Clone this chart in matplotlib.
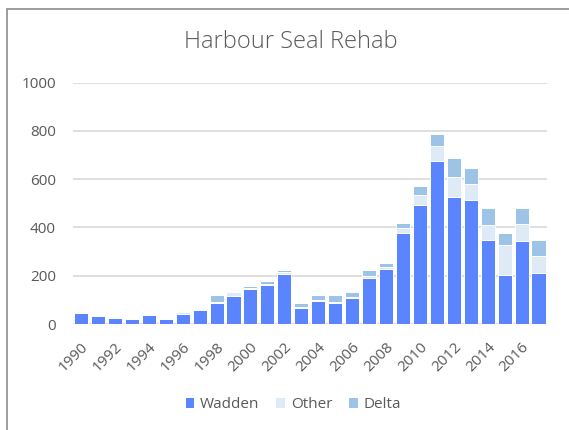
import matplotlib
matplotlib.use("Agg")
import matplotlib.pyplot as plt
from matplotlib.patches import Rectangle
import numpy as np

years = list(range(1990, 2018))
wadden = [45, 34, 26, 22, 38, 22, 42, 58, 85, 117, 144, 163, 206, 66,
          96, 87, 107, 190, 228, 376, 491, 675, 526, 515, 346, 201, 342, 213]
other = [2, 2, 3, 3, 3, 3, 8, 3, 8, 15, 5, 3, 8, 5,
         5, 6, 6, 7, 6, 23, 42, 63, 84, 65, 64, 128, 73, 69]
delta = [3, 5, 4, 5, 5, 5, 4, 5, 27, 5, 7, 13, 9, 15,
         18, 26, 21, 27, 18, 18, 40, 47, 76, 68, 69, 47, 64, 64]
series_names = ["Wadden", "Other", "Delta"]
colors = ["#5B84FF", "#DEEBF7", "#9DC3E6"]
yticks = [0, 200, 400, 600, 800, 1000]

plt.rcParams['font.family'] = ['Open Sans', 'DejaVu Sans']
W, H = 569, 430
fig = plt.figure(figsize=(W / 100, H / 100), dpi=100)
fig.patch.set_facecolor("white")

# outer border (chart area), cropped at right/bottom
fig.patches.append(Rectangle((7.3 / W, -0.1), 2.0, (H - 9) / H + 0.1, transform=fig.transFigure,
                             fill=False, edgecolor="#8c8c8c", linewidth=1.2, zorder=0))

ax = fig.add_axes([72.5 / W, 1 - 324 / H, (547 - 72.5) / W, (324 - 82.5) / H])
x = np.arange(len(years))
bottom = np.zeros(len(years))
for name, vals, c in zip(series_names, [wadden, other, delta], colors):
    vals = np.array(vals, dtype=float)
    ax.bar(x, vals, bottom=bottom, width=0.83, color=c, edgecolor="white",
           linewidth=0.7, label=name, zorder=3)
    bottom += vals

ax.set_ylim(0, 1000)
ax.set_xlim(-0.5, len(years) - 0.5)
ax.set_yticks(yticks)
ax.set_yticklabels([str(v) for v in yticks])
ax.yaxis.grid(True, color="#D9D9D9", linewidth=1.2, zorder=0)
for s in ax.spines.values():
    s.set_visible(False)
ax.axhline(0, color="#D9D9D9", linewidth=1.2, zorder=2)
ax.tick_params(axis="both", length=0, colors="#595959", labelsize=11)
ax.tick_params(axis="y", pad=12)
ax.set_xticks(x[::2])
ax.set_xticklabels([str(y) for y in years[::2]], rotation=45, ha="right",
                   rotation_mode="anchor")
ax.tick_params(axis="x", pad=11)

fig.text(291 / W, 1 - 42 / H, "Harbour Seal Rehab", ha="center", va="center",
         fontsize=17, color="#595959", fontweight="light")

handles, labels = ax.get_legend_handles_labels()
leg = fig.legend(handles, labels, loc="center", bbox_to_anchor=(293.5 / W, 1 - 405 / H), ncol=3,
                 frameon=False, handlelength=0.55, handleheight=0.55, handletextpad=0.4,
                 columnspacing=1.1, fontsize=11, labelcolor="#595959")
for h in leg.legend_handles:
    h.set_edgecolor("none")

fig.savefig("out.png", dpi=100, facecolor="white")
